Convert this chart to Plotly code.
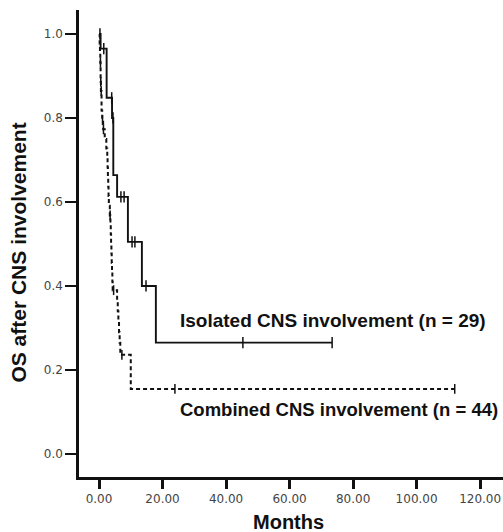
import plotly.graph_objects as go

# Isolated CNS involvement (n = 29) - Kaplan-Meier steps
iso_t = [0, 0.5, 2.4, 4.1, 4.5, 5.7, 9.1, 13.5, 17.9, 73.4]
iso_s = [1.0, 0.965, 0.848, 0.80, 0.664, 0.612, 0.505, 0.40, 0.265, 0.265]
iso_cens_t = [0.3, 1.5, 4.0, 4.4, 6.9, 7.9, 10.4, 11.3, 14.8, 45.3, 73.4]
iso_cens_s = [1.0, 0.965, 0.848, 0.80, 0.612, 0.612, 0.505, 0.505, 0.40, 0.265, 0.265]

# Combined CNS involvement (n = 44)
comb_t = [0, 0.2, 0.3, 0.4, 0.5, 0.6, 0.8, 1.0, 1.3, 1.8, 2.3, 2.6, 2.7, 2.8, 2.9, 3.0, 3.1,
          3.4, 3.6, 3.7, 3.8, 3.9, 4.0, 4.1, 4.2, 4.3, 5.7, 5.9, 6.1, 6.3, 6.5, 6.7, 10.0, 112.0]
comb_s = [1.0, 0.977, 0.955, 0.932, 0.886, 0.864, 0.818, 0.795, 0.773, 0.75, 0.727, 0.705, 0.682,
          0.659, 0.636, 0.614, 0.591, 0.568, 0.545, 0.523, 0.50, 0.477, 0.455, 0.432, 0.41, 0.39,
          0.365, 0.34, 0.315, 0.29, 0.265, 0.236, 0.155, 0.155]
comb_cens_t = [0.45, 0.55, 0.7, 1.1, 1.4, 3.5, 4.6, 7.2, 23.9, 112.0]
comb_cens_s = [0.932, 0.886, 0.864, 0.795, 0.773, 0.568, 0.39, 0.236, 0.155, 0.155]

x_ticks = [0, 20, 40, 60, 80, 100, 120]
x_tick_labels = ["0.00", "20.00", "40.00", "60.00", "80.00", "100.00", "120.00"]
y_ticks = [0.0, 0.2, 0.4, 0.6, 0.8, 1.0]
y_tick_labels = ["0.0", "0.2", "0.4", "0.6", "0.8", "1.0"]

labels = ["Isolated CNS involvement (n = 29)", "Combined CNS involvement (n = 44)"]

fig = go.Figure()
fig.add_trace(go.Scatter(x=iso_t, y=iso_s, mode="lines", line=dict(color="#111", width=1.9, shape="hv"),
                         showlegend=False, hoverinfo="skip"))
fig.add_trace(go.Scatter(x=iso_cens_t, y=iso_cens_s, mode="markers",
                         marker=dict(symbol="line-ns", size=8, line=dict(color="#111", width=1.5)),
                         showlegend=False))
fig.add_trace(go.Scatter(x=comb_t, y=comb_s, mode="lines",
                         line=dict(color="#111", width=2, shape="hv", dash="4px,3px"),
                         showlegend=False, hoverinfo="skip"))
fig.add_trace(go.Scatter(x=comb_cens_t, y=comb_cens_s, mode="markers",
                         marker=dict(symbol="line-ns", size=7, line=dict(color="#111", width=1.5)),
                         showlegend=False))

bold = dict(family="Liberation Sans, Arial, sans-serif", size=19, color="#111")
fig.add_annotation(x=24.9, y=0.317, text="<b>" + labels[0] + "</b>", showarrow=False,
                   xanchor="left", yanchor="middle", font=bold)
fig.add_annotation(x=25.0, y=0.105, text="<b>" + labels[1] + "</b>", showarrow=False,
                   xanchor="left", yanchor="middle", font=dict(bold, size=18.5))
fig.add_annotation(x=59.8, yref="paper", y=-0.0964, text="<b>Months</b>", showarrow=False,
                   xanchor="center", yanchor="middle", font=dict(bold, size=20))
fig.add_annotation(xref="paper", x=-0.142, y=0.479, text="<b>OS after CNS involvement</b>",
                   showarrow=False, textangle=-90, xanchor="center", yanchor="middle",
                   font=dict(bold, size=21))

tickfont = dict(family="DejaVu Sans, sans-serif", size=12, color="#444")
fig.update_xaxes(range=[-6.3, 127.2], tickvals=x_ticks, ticktext=x_tick_labels,
                 showline=True, linecolor="#111", linewidth=2.5, ticks="outside", ticklen=9,
                 tickwidth=2.5, tickcolor="#111", showgrid=False, zeroline=False, tickfont=tickfont,
                 automargin=False)
fig.update_yaxes(range=[-0.0548, 1.057], tickvals=y_ticks, ticktext=y_tick_labels,
                 showline=True, linecolor="#111", linewidth=2.5, ticks="outside", ticklen=11,
                 tickwidth=2, tickcolor="#111", showgrid=False, zeroline=False, tickfont=tickfont,
                 automargin=False)

fig.update_layout(width=503, height=532, margin=dict(l=79, r=0, t=10, b=55),
                  plot_bgcolor="white", paper_bgcolor="white")
fig.write_html("out.html", config={"displayModeBar": False},
               post_script="document.body.style.margin='0';document.body.style.overflow='hidden';")
